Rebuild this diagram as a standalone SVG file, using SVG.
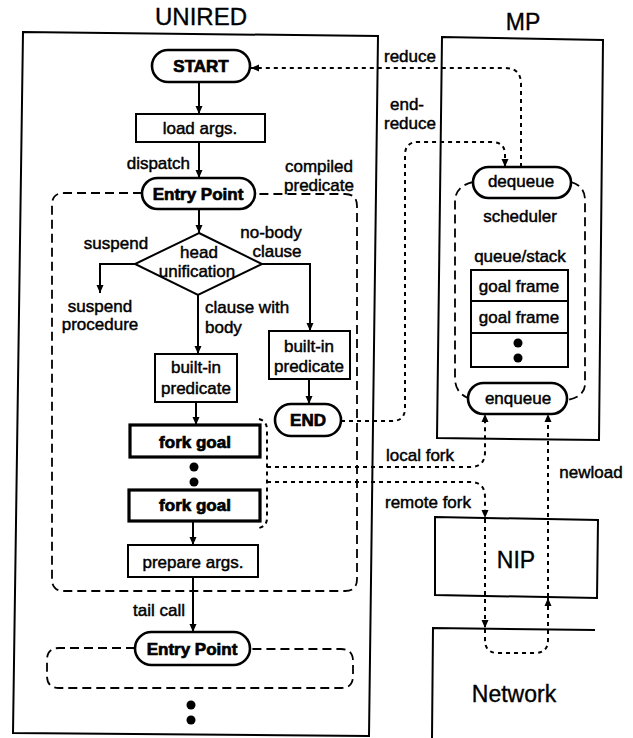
<svg xmlns="http://www.w3.org/2000/svg" width="633" height="738" viewBox="0 0 633 738">
  <style>
    text { font-family: "Liberation Sans", Arial, Helvetica, sans-serif; font-size: 17px; fill: #000; stroke: #000; stroke-width: 0.45; text-anchor: middle; }
    .b { font-weight: bold; stroke-width: 0.7; }
    .big { font-size: 23px; stroke-width: 0.35; }
    .l { text-anchor: start; }
    .r { text-anchor: end; }
    .box { fill: #fff; stroke: #000; stroke-width: 2; }
    .pill { fill: #fff; stroke: #000; stroke-width: 2.6; }
    .thick { fill: #fff; stroke: #000; stroke-width: 3.2; }
    .frame { fill: none; stroke: #000; stroke-width: 2; }
    .flow { fill: none; stroke: #000; stroke-width: 2; }
    .dash { fill: none; stroke: #000; stroke-width: 1.8; stroke-dasharray: 9 5; }
    .dot { fill: none; stroke: #000; stroke-width: 2; stroke-dasharray: 4 4; }
  </style>
  <defs>
    <marker id="arr" markerUnits="userSpaceOnUse" markerWidth="9" markerHeight="8" refX="8" refY="4" orient="auto">
      <path d="M0,0.5 L8,4 L0,7.5 Z" fill="#000"/>
    </marker>
  </defs>

  <rect width="633" height="738" fill="#fff"/>

  <!-- processor outlines -->
  <g id="unired">
    <polygon class="frame" points="23,32 378,36 369,736 13,733"/>
    <text class="big" x="201" y="25" style="font-size:24px">UNIRED</text>
  </g>
  <g id="mp">
    <polygon class="frame" points="442,37 603,40 599,440 437,438"/>
    <text class="big" x="523" y="30">MP</text>
  </g>
  <g id="nip">
    <polygon class="frame" points="435,517 598,520 597,598 435,595"/>
    <text class="big" x="516" y="568">NIP</text>
  </g>
  <g id="network">
    <path class="frame" d="M595,630 L433,628 L432,738"/>
    <text class="big" x="514" y="702">Network</text>
  </g>

  <!-- dashed regions: compiled predicate and next predicate -->
  <g id="compiled-predicate">
    <path class="dash" d="M142,193 H64 Q52,193 52,205 V579 Q52,591 64,591 H345 Q357,591 357,579 V206 Q357,194 345,194 H255"/>
    <text x="319" y="172">compiled</text>
    <text x="319" y="191">predicate</text>
  </g>
  <g id="next-predicate">
    <path class="dash" d="M135,648 H59 Q47,648 47,660 V676 Q47,688 59,688 H341 Q353,688 353,676 V661 Q353,649 341,649 H250"/>
  </g>

  <!-- connectors -->
  <g id="connectors">
    <path class="flow" d="M199,82 V114" marker-end="url(#arr)"/>
    <path class="flow" d="M199,142 V178" marker-end="url(#arr)"/>
    <path class="flow" d="M199,209 V233" marker-end="url(#arr)"/>
    <path class="flow" d="M135,264 H100 V293" marker-end="url(#arr)"/>
    <path class="flow" d="M262,264 H310 V331" marker-end="url(#arr)"/>
    <path class="flow" d="M198,295 V354" marker-end="url(#arr)"/>
    <path class="flow" d="M196,402 V425" marker-end="url(#arr)"/>
    <path class="flow" d="M309,379 V404" marker-end="url(#arr)"/>
    <path class="flow" d="M193,521 V545" marker-end="url(#arr)"/>
    <path class="flow" d="M193,577 V632" marker-end="url(#arr)"/>

    <!-- messages between UNIRED, MP and NIP -->
    <path class="dot" d="M521,167 V84 Q521,68 505,68 H251" marker-end="url(#arr)"/>
    <path class="dot" d="M341,421 H392 Q405,421 405,408 V155 Q405,142 418,142 H492 Q505,142 505,155 V167" marker-end="url(#arr)"/>
    <path class="dot" d="M259,419 Q267,421 267,430 V518 Q267,526 259,528"/>
    <path class="dot" d="M267,467 H470 Q485,467 485,452 V414" marker-end="url(#arr)"/>
    <path class="dot" d="M267,482 H470 Q485,482 485,497 V518" marker-end="url(#arr)"/>
    <path class="dot" d="M485,519 V628" marker-end="url(#arr)"/>
    <path class="dot" d="M485,629 V640 Q485,653 498,653 H535 Q548,653 548,640 V598" marker-end="url(#arr)"/>
    <path class="dot" d="M548,597 V414" marker-end="url(#arr)"/>

    <!-- scheduler loop inside MP -->
    <path class="dash" d="M473,182 Q456,186 455,200 V380 Q456,393 468,398"/>
    <path class="dash" d="M571,182 Q585,186 585,200 V385 Q584,397 567,400"/>
  </g>

  <!-- connector labels -->
  <g id="labels">
    <text class="r" x="190" y="169">dispatch</text>
    <text x="116" y="249">suspend</text>
    <text x="271" y="238">no-body</text>
    <text x="277" y="257">clause</text>
    <text x="100" y="312">suspend</text>
    <text x="100" y="330">procedure</text>
    <text class="l" x="205" y="313">clause with</text>
    <text class="l" x="205" y="333">body</text>
    <text class="r" x="185" y="616">tail call</text>
    <text x="410" y="62">reduce</text>
    <text x="407" y="110">end-</text>
    <text x="410" y="129">reduce</text>
    <text x="420" y="461">local fork</text>
    <text x="428" y="508">remote fork</text>
    <text x="591" y="478">newload</text>
  </g>

  <!-- UNIRED flow nodes -->
  <g id="start">
    <rect class="pill" x="152" y="50" width="98" height="32" rx="16"/>
    <text class="b" x="201" y="72">START</text>
  </g>
  <g id="load-args">
    <rect class="box" x="136" y="114" width="129" height="28"/>
    <text x="200" y="134">load args.</text>
  </g>
  <g id="entry-point">
    <rect class="pill" x="142" y="178" width="113" height="31" rx="15.5"/>
    <text class="b" x="198" y="200">Entry Point</text>
  </g>
  <g id="head-unification">
    <polygon class="box" points="199,233 262,264 198,295 135,264"/>
    <text x="199" y="258">head</text>
    <text x="197" y="277">unification</text>
  </g>
  <g id="builtin-body">
    <rect class="box" x="155" y="354" width="82" height="48"/>
    <text x="196" y="373">built-in</text>
    <text x="196" y="394">predicate</text>
  </g>
  <g id="builtin-nobody">
    <rect class="box" x="269" y="331" width="81" height="48"/>
    <text x="309" y="352">built-in</text>
    <text x="309" y="372">predicate</text>
  </g>
  <g id="end">
    <rect class="pill" x="275" y="404" width="66" height="32" rx="16"/>
    <text class="b" x="308" y="426">END</text>
  </g>
  <g id="fork-goal-1">
    <rect class="thick" x="130" y="425" width="130" height="32"/>
    <text class="b" x="195" y="448">fork goal</text>
  </g>
  <g id="fork-dots">
    <circle cx="194" cy="467" r="4.5"/>
    <circle cx="194" cy="482" r="4.5"/>
  </g>
  <g id="fork-goal-2">
    <rect class="thick" x="129" y="490" width="131" height="31"/>
    <text class="b" x="195" y="511">fork goal</text>
  </g>
  <g id="prepare-args">
    <rect class="box" x="128" y="545" width="130" height="32"/>
    <text x="193" y="568">prepare args.</text>
  </g>
  <g id="entry-point-2">
    <rect class="pill" x="135" y="632" width="115" height="33" rx="16.5"/>
    <text class="b" x="192" y="655">Entry Point</text>
  </g>
  <g id="more-dots">
    <circle cx="191" cy="705" r="4.5"/>
    <circle cx="191" cy="720" r="4.5"/>
  </g>

  <!-- MP scheduler nodes -->
  <g id="dequeue">
    <rect class="pill" x="473" y="167" width="98" height="31" rx="15.5"/>
    <text x="521" y="187">dequeue</text>
  </g>
  <g id="scheduler">
    <text x="520" y="222">scheduler</text>
  </g>
  <g id="queue-stack">
    <text x="520" y="262">queue/stack</text>
    <rect class="box" x="471" y="270" width="97" height="97"/>
    <line x1="471" y1="301" x2="568" y2="301" stroke="#000" stroke-width="2"/>
    <line x1="471" y1="333" x2="568" y2="333" stroke="#000" stroke-width="2"/>
    <text x="519" y="292">goal frame</text>
    <text x="519" y="323">goal frame</text>
    <circle cx="518" cy="343" r="4.5"/>
    <circle cx="518" cy="358" r="4.5"/>
  </g>
  <g id="enqueue">
    <rect class="pill" x="468" y="383" width="99" height="31" rx="15.5"/>
    <text x="518" y="404">enqueue</text>
  </g>
</svg>
